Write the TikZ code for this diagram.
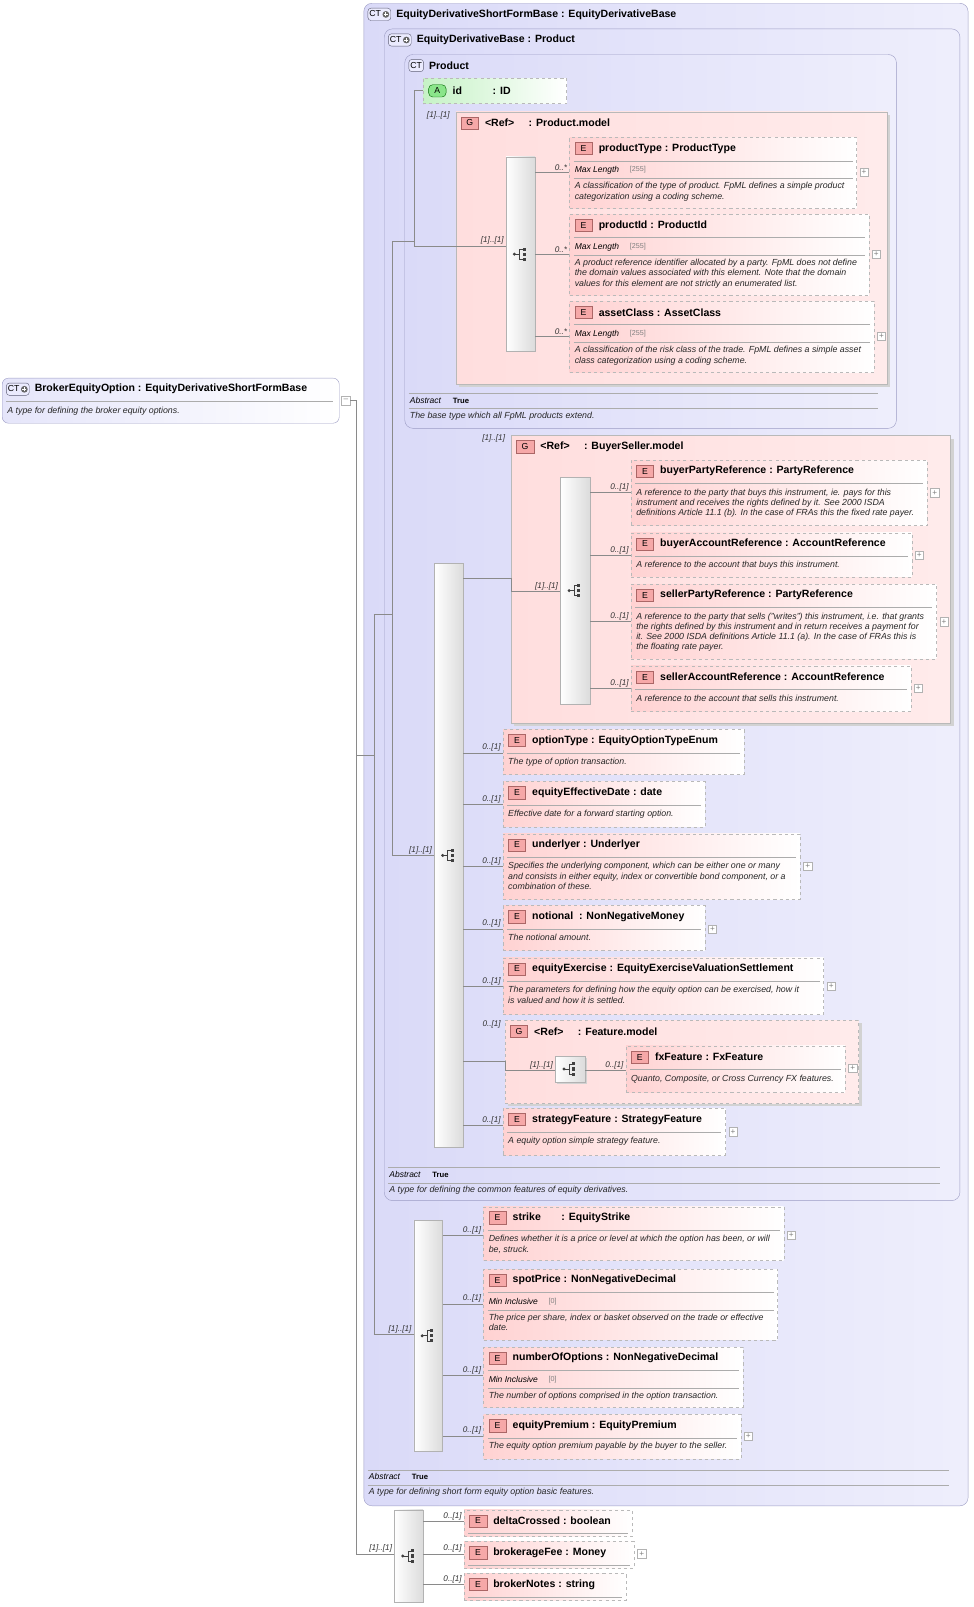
\documentclass[tikz,border=0pt]{standalone}
\usepackage{fontspec}
\setmainfont{Liberation Sans}
\usetikzlibrary{positioning}

\definecolor{ctline}{HTML}{9C9CC4}
\definecolor{ctfill}{HTML}{DADAF8}
\definecolor{elfill}{HTML}{FFD2D2}
\definecolor{grfill}{HTML}{FFDEDE}
\definecolor{connc}{HTML}{8A8A8A}
\definecolor{badgered}{HTML}{F6A8A8}
\definecolor{attfill}{HTML}{C6F2C6}

\tikzset{
  ctbox/.style={draw=ctline, rounded corners=8pt, left color=ctfill, right color=ctfill!45!white, inner sep=0},
  elem/.style={draw=gray!55, dashed, left color=elfill, right color=white, inner sep=0},
  grbox/.style={draw=gray!55, left color=grfill, right color=grfill!60!white, inner sep=0},
  shadowbox/.style={fill=gray!35, draw=none, inner sep=0},
  seqbox/.style={draw=gray!60, left color=white, right color=gray!28, inner sep=0},
  conn/.style={draw=connc, line width=0.5pt},
  occ/.style={font=\fontsize{8}{9}\selectfont\itshape, inner sep=1pt, text=black!80},
  ebadge/.style={draw=red!45!black!60, fill=badgered, font=\fontsize{8.5}{9}\selectfont, minimum width=17pt, minimum height=12pt, inner sep=0},
  ctbadge/.style={draw=ctline!60!black, fill=ctfill!70!blue!20, rounded corners=3pt, font=\fontsize{8.5}{9}\selectfont, minimum height=12pt, inner sep=1.5pt},
  etitle/.style={font=\fontsize{10.3}{11}\selectfont\bfseries, inner sep=0},
  desc/.style={font=\fontsize{8.6}{10}\selectfont\itshape, align=left, inner sep=0, anchor=north west, text=black!85},
  facetl/.style={font=\fontsize{8.3}{9}\selectfont\itshape, inner sep=0, anchor=west},
  facetv/.style={font=\fontsize{7}{8}\selectfont, text=gray, inner sep=0, anchor=west},
  sep/.style={draw=gray!65, line width=0.4pt},
  expbox/.style={draw=gray!60, fill=white, minimum size=8pt, inner sep=0, font=\fontsize{8}{8}\selectfont, text=gray, anchor=west, xshift=3pt},
}

% element box: name, x, y, width, height, title
\newcommand{\elem}[6]{%
  \node[elem, anchor=north west, minimum width=#4pt, minimum height=#5pt] (#1) at (#2,#3) {};
  \node[ebadge, anchor=west] (#1-b) at ([xshift=5pt,yshift=-11pt]#1.north west) {E};
  \node[etitle, anchor=west, right=6pt of #1-b] (#1-t) {#6};
  \draw[sep] ([xshift=4pt,yshift=-23pt]#1.north west) -- ([xshift=-4pt,yshift=-23pt]#1.north east);
}
% facet row under the title
\newcommand{\facet}[3]{%
  \node[facetl] (#1-fl) at ([xshift=5pt,yshift=-32pt]#1.north west) {#2};
  \node[facetv, right=10pt of #1-fl] {#3};
  \draw[sep] ([xshift=4pt,yshift=-40pt]#1.north west) -- ([xshift=-4pt,yshift=-40pt]#1.north east);
}
% description text: name, offset, text
\newcommand{\desc}[3]{%
  \node[desc] at ([xshift=5pt,yshift=-#2pt]#1.north west) {#3};
}
% expander square at a height
\newcommand{\expd}[2]{%
  \node[expbox] (#1-x) at (#1.east |- 0,#2) {+};
}
% connector: from, to, height, occurrence
\newcommand{\link}[4]{%
  \draw[conn] (#1.east |- 0,#3) -- (#2.west |- 0,#3) node[occ, anchor=south east, pos=1, xshift=-1pt] {#4};
}
% sequence compositor icon
\newcommand{\seqicon}[1]{%
  \begin{scope}[shift={(#1)}, black!75]
    \fill (-6,0) circle (1.6pt);
    \draw[line width=0.6pt] (-6,0) -- (-1,0) (-1,-5) -- (-1,5)
      (-1,-5) -- (2,-5) (-1,5) -- (2,5);
    \fill (2,-6.5) rectangle (5,-3.5);
    \fill (2,-1.5) rectangle (5,1.5);
    \fill (2,3.5) rectangle (5,6.5);
  \end{scope}
}
% complex type header: name, badge text, title
\newcommand{\cthead}[3]{%
  \node[ctbadge, anchor=west] (#1-b) at ([xshift=4pt,yshift=-11pt]#1.north west) {#2};
  \node[etitle, anchor=west, right=5pt of #1-b] {#3};
}
\newcommand{\ctplus}{CT\,\tikz[baseline=-2.5pt]{\fill[black!60] (0,0) circle (3.3pt); \draw[white, line width=0.8pt] (-2pt,0) -- (2pt,0) (0,-2pt) -- (0,2pt);}}
% group header: name, title
\newcommand{\grhead}[2]{%
  \node[ebadge, anchor=west] (#1-b) at ([xshift=5pt,yshift=-11pt]#1.north west) {G};
  \node[etitle, anchor=west, right=6pt of #1-b] {#2};
}
% footer of a complex type: x1, x2, top line height, text
\newcommand{\ctfoot}[4]{%
  \draw[sep] (#1,#3) -- (#2,#3);
  \node[facetl] at (#1+1,#3+7) {Abstract};
  \node[font=\fontsize{7.5}{8}\selectfont\bfseries, inner sep=0, anchor=west] at (#1+43,#3+7) {True};
  \draw[sep] (#1,#3+15) -- (#2,#3+15);
  \node[desc] at (#1+1,#3+18) {#4};
}

\begin{document}
\begin{tikzpicture}[x=1pt, y=-1pt]
  \useasboundingbox (0,0) rectangle (950,1569);

  % root type
  \node[ctbox, rounded corners=6pt, left color=ctfill!70!white, right color=white, anchor=north west, minimum width=329pt, minimum height=44pt] (root) at (2,369) {};
  \cthead{root}{\ctplus}{BrokerEquityOption : EquityDerivativeShortFormBase}
  \draw[sep] (6,392) -- (325,392);
  \node[desc] at (7,397) {A type for defining the broker equity options.};
  \node[expbox, xshift=-1pt] (root-x) at (root.east) {--};

  % nested complex types
  \node[ctbox, anchor=north west, minimum width=590pt, minimum height=1467pt] (outer) at (355,3) {};
  \cthead{outer}{\ctplus}{EquityDerivativeShortFormBase : EquityDerivativeBase}
  \ctfoot{359}{927}{1435}{A type for defining short form equity option basic features.}

  \node[ctbox, anchor=north west, minimum width=562pt, minimum height=1144pt] (edb) at (375,28) {};
  \cthead{edb}{\ctplus}{EquityDerivativeBase : Product}
  \ctfoot{379}{918}{1140}{A type for defining the common features of equity derivatives.}

  \node[ctbox, anchor=north west, minimum width=480pt, minimum height=365pt] (product) at (395,53) {};
  \cthead{product}{CT}{Product}
  \ctfoot{399}{857}{384}{The base type which all FpML products extend.}

  % attribute
  \node[elem, left color=attfill, right color=white, anchor=north west, minimum width=140pt, minimum height=25pt] (idatt) at (413,76) {};
  \node[ebadge, draw=green!40!black, fill=green!45!white!80!gray, rounded corners=4pt] (idatt-b) at ([xshift=14pt]idatt.west) {A};
  \node[etitle, anchor=west, right=6pt of idatt-b] {id\hspace{30pt}: ID};

  % Product.model group
  \node[shadowbox, anchor=north west, minimum width=421pt, minimum height=266pt] at (448,112) {};
  \node[grbox, anchor=north west, minimum width=421pt, minimum height=266pt] (pmgrp) at (445,109) {};
  \grhead{pmgrp}{<Ref>\hspace{14pt}: Product.model}
  \node[occ] at (428,113) {[1]..[1]};
  \node[seqbox, anchor=north west, minimum width=28pt, minimum height=190pt] (seqA) at (494,153) {};
  \seqicon{seqA.center}

  \elem{ptype}{556}{134}{280}{69}{productType : ProductType}
  \facet{ptype}{Max Length}{[255]}
  \desc{ptype}{44}{A classification of the type of product. FpML defines a simple product\\categorization using a coding scheme.}
  \expd{ptype}{168}
  \elem{pid}{556}{209}{292}{79}{productId : ProductId}
  \facet{pid}{Max Length}{[255]}
  \desc{pid}{44}{A product reference identifier allocated by a party. FpML does not define\\the domain values associated with this element. Note that the domain\\values for this element are not strictly an enumerated list.}
  \expd{pid}{248}
  \elem{aclass}{556}{294}{297}{69}{assetClass : AssetClass}
  \facet{aclass}{Max Length}{[255]}
  \desc{aclass}{44}{A classification of the risk class of the trade. FpML defines a simple asset\\class categorization using a coding scheme.}
  \expd{aclass}{328}

  % BuyerSeller.model group
  \node[shadowbox, anchor=north west, minimum width=429pt, minimum height=281pt] at (502,428) {};
  \node[grbox, anchor=north west, minimum width=429pt, minimum height=281pt] (bsgrp) at (499,425) {};
  \grhead{bsgrp}{<Ref>\hspace{14pt}: BuyerSeller.model}
  \node[occ] at (482,428) {[1]..[1]};
  \node[seqbox, anchor=north west, minimum width=29pt, minimum height=221pt] (seqBS) at (547,466) {};
  \seqicon{seqBS.center}

  \elem{bparty}{616}{449}{289}{64}{buyerPartyReference : PartyReference}
  \desc{bparty}{28}{A reference to the party that buys this instrument, ie. pays for this\\instrument and receives the rights defined by it. See 2000 ISDA\\definitions Article 11.1 (b). In the case of FRAs this the fixed rate payer.}
  \expd{bparty}{481}
  \elem{bacc}{616}{520}{274}{43}{buyerAccountReference : AccountReference}
  \desc{bacc}{28}{A reference to the account that buys this instrument.}
  \expd{bacc}{542}
  \elem{sparty}{616}{570}{298}{73}{sellerPartyReference : PartyReference}
  \desc{sparty}{28}{A reference to the party that sells ("writes") this instrument, i.e. that grants\\the rights defined by this instrument and in return receives a payment for\\it. See 2000 ISDA definitions Article 11.1 (a). In the case of FRAs this is\\the floating rate payer.}
  \expd{sparty}{607}
  \elem{sacc}{616}{650}{273}{44}{sellerAccountReference : AccountReference}
  \desc{sacc}{28}{A reference to the account that sells this instrument.}
  \expd{sacc}{672}

  % main sequence of EquityDerivativeBase
  \node[seqbox, anchor=north west, minimum width=28pt, minimum height=570pt] (seqB) at (424,550) {};
  \seqicon{seqB.center}

  \elem{otype}{491}{712}{235}{44}{optionType : EquityOptionTypeEnum}
  \desc{otype}{28}{The type of option transaction.}
  \elem{effdate}{491}{763}{197}{44}{equityEffectiveDate : date}
  \desc{effdate}{28}{Effective date for a forward starting option.}
  \elem{underlyer}{491}{814}{290}{64}{underlyer : Underlyer}
  \desc{underlyer}{28}{Specifies the underlying component, which can be either one or many\\and consists in either equity, index or convertible bond component, or a\\combination of these.}
  \expd{underlyer}{846}
  \elem{notional}{491}{884}{197}{44}{notional\ \ : NonNegativeMoney}
  \desc{notional}{28}{The notional amount.}
  \expd{notional}{907}
  \elem{exercise}{491}{935}{313}{55}{equityExercise : EquityExerciseValuationSettlement}
  \desc{exercise}{28}{The parameters for defining how the equity option can be exercised, how it\\is valued and how it is settled.}
  \expd{exercise}{963}

  % Feature.model group
  \node[shadowbox, anchor=north west, minimum width=345pt, minimum height=81pt] at (496,999) {};
  \node[grbox, dashed, anchor=north west, minimum width=345pt, minimum height=81pt] (ftgrp) at (493,996) {};
  \grhead{ftgrp}{<Ref>\hspace{14pt}: Feature.model}
  \node[occ] at (480,1000) {0..[1]};
  \node[shadowbox, anchor=north west, minimum width=29pt, minimum height=25pt] at (544,1033) {};
  \node[seqbox, anchor=north west, minimum width=29pt, minimum height=25pt] (seqF) at (542,1031) {};
  \seqicon{seqF.center}
  \elem{fxfeat}{611}{1021}{214}{45}{fxFeature : FxFeature}
  \desc{fxfeat}{28}{Quanto, Composite, or Cross Currency FX features.}
  \expd{fxfeat}{1043}

  \elem{strat}{491}{1082}{217}{46}{strategyFeature : StrategyFeature}
  \desc{strat}{28}{A equity option simple strategy feature.}
  \expd{strat}{1105}

  % sequence of EquityDerivativeShortFormBase
  \node[seqbox, anchor=north west, minimum width=28pt, minimum height=226pt] (seqC) at (404,1191) {};
  \seqicon{seqC.center}
  \elem{strike}{472}{1178}{293}{52}{strike\hspace{20pt}: EquityStrike}
  \desc{strike}{28}{Defines whether it is a price or level at which the option has been, or will\\be, struck.}
  \expd{strike}{1206}
  \elem{spot}{472}{1239}{287}{69}{spotPrice : NonNegativeDecimal}
  \facet{spot}{Min Inclusive}{[0]}
  \desc{spot}{44}{The price per share, index or basket observed on the trade or effective\\date.}
  \elem{nopt}{472}{1315}{253}{59}{numberOfOptions : NonNegativeDecimal}
  \facet{nopt}{Min Inclusive}{[0]}
  \desc{nopt}{44}{The number of options comprised in the option transaction.}
  \elem{premium}{472}{1381}{251}{43}{equityPremium : EquityPremium}
  \desc{premium}{27}{The equity option premium payable by the buyer to the seller.}
  \expd{premium}{1402}

  % sequence of BrokerEquityOption
  \node[seqbox, anchor=north west, minimum width=28pt, minimum height=90pt] (seqD) at (385,1474) {};
  \seqicon{seqD.center}
  \elem{dcross}{453}{1474}{164}{26}{deltaCrossed : boolean}
  \elem{bfee}{453}{1505}{166}{26}{brokerageFee : Money}
  \expd{bfee}{1517}
  \elem{bnotes}{453}{1536}{158}{26}{brokerNotes : string}

  % trunk lines
  \coordinate (tr1) at (348,737);
  \coordinate (tr2) at (348,1517);
  \coordinate (ta) at (365,600);
  \coordinate (tb) at (365,1303);
  \coordinate (tc) at (383,600);
  \coordinate (td) at (383,236);
  \coordinate (te) at (383,835);
  \coordinate (pa) at (404,236);
  \coordinate (pb) at (404,88);
  \coordinate (pc) at (404,240);
  \draw[conn] (root-x.east) -| (tr2);
  \draw[conn] (tr1) -- (365,737);
  \draw[conn] (ta) -- (tb) (ta) -- (tc);
  \draw[conn] (td) -- (te) (td) -- (pa);
  \draw[conn] (pb) -- (pc) (pb) -- (idatt.west |- pb);
  \draw[conn] (tr2) -- (seqD.west |- tr2) node[occ, anchor=south east, pos=1, xshift=-1pt] {[1]..[1]};
  \draw[conn] (tb) -- (seqC.west |- tb) node[occ, anchor=south east, pos=1, xshift=-1pt] {[1]..[1]};
  \draw[conn] (te) -- (seqB.west |- te) node[occ, anchor=south east, pos=1, xshift=-1pt] {[1]..[1]};
  \draw[conn] (pc) -- (seqA.west |- pc) node[occ, anchor=south east, pos=1, xshift=-1pt] {[1]..[1]};

  % Product.model links
  \link{seqA}{ptype}{168}{0..*}
  \link{seqA}{pid}{248}{0..*}
  \link{seqA}{aclass}{328}{0..*}

  % BuyerSeller.model links
  \draw[conn] (seqB.east |- 0,565) -- (bsgrp.west |- 0,565) |- (seqBS.west |- 0,577) node[occ, anchor=south east, pos=1, xshift=-1pt] {[1]..[1]};
  \link{seqBS}{bparty}{481}{0..[1]}
  \link{seqBS}{bacc}{542}{0..[1]}
  \link{seqBS}{sparty}{607}{0..[1]}
  \link{seqBS}{sacc}{672}{0..[1]}

  % EquityDerivativeBase links
  \link{seqB}{otype}{735}{0..[1]}
  \link{seqB}{effdate}{785}{0..[1]}
  \link{seqB}{underlyer}{846}{0..[1]}
  \link{seqB}{notional}{907}{0..[1]}
  \link{seqB}{exercise}{963}{0..[1]}
  \draw[conn] (seqB.east |- 0,1036) -- (ftgrp.west |- 0,1036) |- (seqF.west |- 0,1045) node[occ, anchor=south east, pos=1, xshift=-1pt] {[1]..[1]};
  \link{seqF}{fxfeat}{1045}{0..[1]}
  \link{seqB}{strat}{1099}{0..[1]}

  % short form links
  \link{seqC}{strike}{1206}{0..[1]}
  \link{seqC}{spot}{1273}{0..[1]}
  \link{seqC}{nopt}{1343}{0..[1]}
  \link{seqC}{premium}{1402}{0..[1]}

  % broker links
  \link{seqD}{dcross}{1485}{0..[1]}
  \link{seqD}{bfee}{1517}{0..[1]}
  \link{seqD}{bnotes}{1547}{0..[1]}
\end{tikzpicture}
\end{document}
